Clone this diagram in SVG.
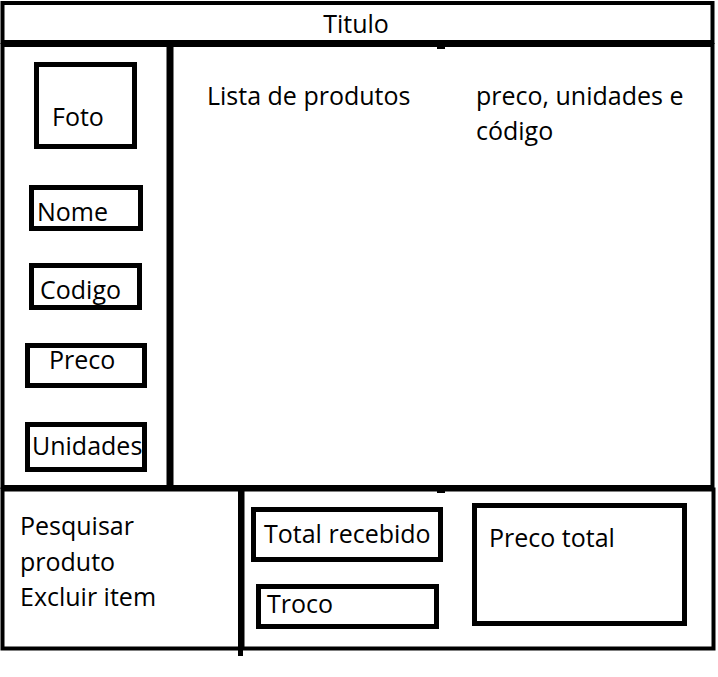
<svg xmlns="http://www.w3.org/2000/svg" width="718" height="677" viewBox="0 0 718 677">
<style>
.b{fill:none;stroke:#000;stroke-width:4}
.s{fill:none;stroke:#000;stroke-width:5}
.t{font-family:"Open Sans","Noto Sans",sans-serif;font-size:25px;fill:#000}
</style>
<rect width="718" height="677" fill="#fff"/>
<g id="titulo"><rect class="b" x="2.5" y="3" width="710" height="39"/><text class="t" x="356" y="33" text-anchor="middle">Titulo</text></g>
<g id="painel-esquerdo"><rect class="b" x="2.5" y="45" width="166" height="442"/></g>
<g id="lista"><rect class="b" x="171.5" y="45" width="541" height="442"/><rect x="437" y="46" width="8" height="3" fill="#000"/>
<text class="t" x="207" y="105">Lista de produtos</text>
<text class="t" x="476" y="105">preco, unidades e</text>
<text class="t" x="476" y="140">código</text></g>
<g id="foto"><rect class="s" x="36.5" y="64.5" width="98" height="82"/><text class="t" x="52" y="126">Foto</text></g>
<g id="nome"><rect class="s" x="31.5" y="187.5" width="109" height="41"/><text class="t" x="37" y="221">Nome</text></g>
<g id="codigo"><rect class="s" x="31.5" y="265.5" width="108" height="42"/><text class="t" x="40" y="299">Codigo</text></g>
<g id="preco"><rect class="s" x="27.5" y="345.5" width="117" height="40"/><text class="t" x="49" y="369">Preco</text></g>
<g id="unidades"><rect class="s" x="27.5" y="424.5" width="117" height="45"/><text class="t" x="32" y="455">Unidades</text></g>
<g id="acoes"><rect class="b" x="2.5" y="489.5" width="238" height="159"/>
<line x1="240.5" y1="489" x2="240.5" y2="656" stroke="#000" stroke-width="5"/>
<text class="t" x="20" y="535">Pesquisar</text><text class="t" x="20" y="571">produto</text><text class="t" x="20" y="606">Excluir item</text></g>
<g id="rodape"><rect class="b" x="242.5" y="489.5" width="471" height="159"/><rect x="437" y="489" width="8" height="4" fill="#000"/></g>
<g id="total-recebido"><rect class="s" x="253.5" y="509.5" width="187" height="50"/><text class="t" x="264" y="543">Total recebido</text></g>
<g id="troco"><rect class="s" x="258.5" y="586.5" width="178" height="40"/><text class="t" x="267" y="613">Troco</text></g>
<g id="preco-total"><rect class="s" x="474.5" y="505.5" width="210" height="118"/><text class="t" x="489" y="547">Preco total</text></g>
</svg>
